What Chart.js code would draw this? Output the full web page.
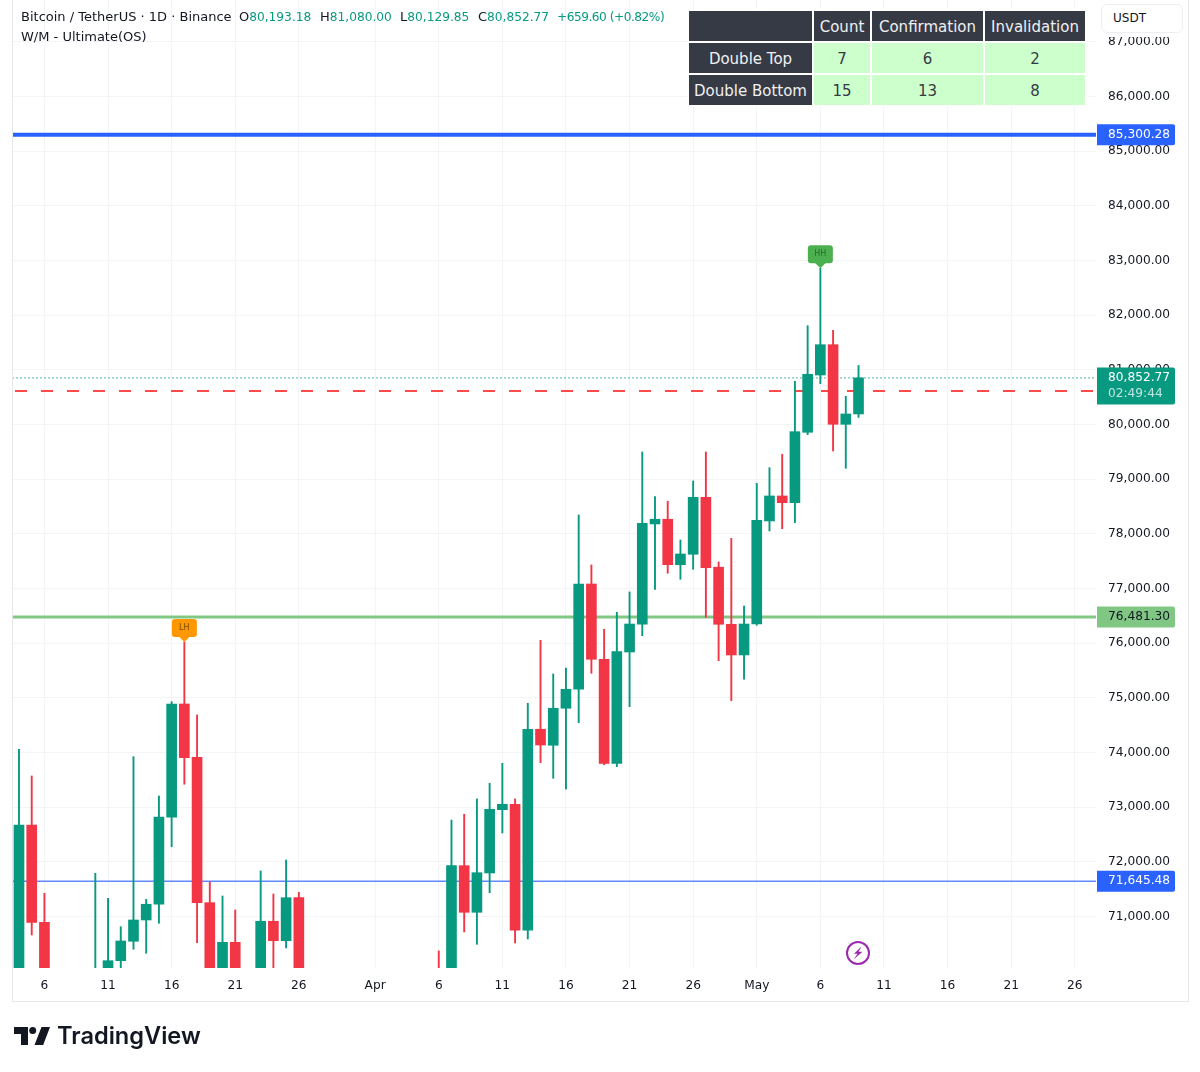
<!DOCTYPE html>
<html>
<head>
<meta charset="utf-8">
<title>BTCUSDT 1D</title>
<script src="https://cdn.jsdelivr.net/npm/chart.js@4"></script>
<style>
  html, body { margin: 0; padding: 0; background: #fff; }
  body { position: relative; width: 1200px; height: 1072px; overflow: hidden;
         font: 13px "DejaVu Sans", sans-serif; color: #131722; }
  canvas { position: absolute; left: 0; top: 0; }
  .frame { position: absolute; left: 12px; top: 0; width: 1175px; height: 1001px;
           border: 1px solid #e6e8ee; border-top: 0; pointer-events: none; }
  .head { position: absolute; white-space: nowrap; line-height: 16px; }
  .head b { font-weight: normal; font-size: 12.2px; color: #089981; }
  #ohlcChange { letter-spacing: -0.5px; }
  #stats { position: absolute; left: 687px; top: 9px; background: #fff;
           border-collapse: separate; border-spacing: 2px; table-layout: fixed;
           font-size: 15px; text-align: center; }
  #stats td { height: 28px; padding: 2px 0 0; }
  #stats .dark { background: #363a45; color: #f0f0f2; }
  #stats .light { background: #ccffcc; color: #363a45; }
  .unitCover { position: absolute; left: 1097px; top: 0; width: 90px; height: 37px; background: #fff; }
  .unit { position: absolute; left: 1101px; top: 4px; width: 69px; height: 27px; padding-left: 11px;
          font-size: 12px; line-height: 27px; border: 1px solid #eceef2; border-radius: 6px; background: #fff; }
  .logoText { position: absolute; left: 57px; top: 1019px; font: 600 23.6px/34px Inter, sans-serif;
              color: #131722; }
</style>
</head>
<body>
<canvas id="spaceForGraphic" width="1200" height="1072"></canvas>
<div class="frame"></div>

<div class="head" style="left:21px;top:9px">Bitcoin / TetherUS · 1D · Binance</div>
<div class="head" id="ohlcO" style="left:239px;top:9px"></div>
<div class="head" id="ohlcH" style="left:320px;top:9px"></div>
<div class="head" id="ohlcL" style="left:400px;top:9px"></div>
<div class="head" id="ohlcC" style="left:478px;top:9px"></div>
<div class="head" id="ohlcChange" style="left:557px;top:9px"></div>
<div class="head" style="left:21px;top:29px">W/M - Ultimate(OS)</div>

<table id="stats"></table>
<div class="unitCover"></div>
<div class="unit">USDT</div>

<svg style="position:absolute;left:845px;top:940px" width="26" height="26" viewBox="0 0 26 26">
  <circle cx="13" cy="13" r="11" fill="#fff" stroke="#9c27b0" stroke-width="2"/>
  <path d="M16.5 6.5 L9 13.8 L12.6 13.8 L8.5 19.5 L17.5 11.8 L13.6 11.8 Z" fill="#9c27b0"/>
</svg>

<svg style="position:absolute;left:14px;top:1027px" width="36" height="18" viewBox="0 0 36 18">
  <path d="M14 0H0v7h7v11h7V0z" fill="#131722"/>
  <circle cx="18.7" cy="3.5" r="3.5" fill="#131722"/>
  <path d="M36 0h-8.5l-7 18h8.7l6.800-18z" fill="#131722"/>
</svg>
<div class="logoText">TradingView</div>

<script>
// daily candles, index 0 is Mar 4, last one is May 9
const opens = [69900, 72675, 70895, 68000, 67300, 66200, 68400, 69700, 70193, 70548,
  70937, 71225, 72816, 74888, 73913, 71254, 69800, 70529, 69700, 69850,
  70914, 70559, 71345, 69000, 68400, 67000, 66600, 67800, 68300, 68900,
  68100, 67400, 69200, 69500, 68500, 71931, 71078, 71797, 72955, 73054,
  70749, 74426, 74133, 74810, 75157, 77083, 75706, 73803, 75839, 76346,
  78181, 78267, 77436, 77627, 78669, 77390, 76346, 75785, 76351, 78236,
  78693, 78570, 79858, 80906, 81460, 80004, 80193.18];
const highs = [74060, 73571, 71426, 68800, 67800, 68600, 71792, 71334, 70815, 73924,
  71316, 73205, 74930, 76022, 74687, 71633, 71376, 71120, 70020, 71834,
  71413, 72035, 71444, 69400, 68800, 67500, 68100, 68500, 69200, 69300,
  68700, 69400, 69800, 70371, 72766, 72871, 73151, 73438, 73803, 73151,
  74901, 76053, 75437, 75547, 78345, 77431, 76255, 76566, 76937, 79498,
  78680, 78596, 77888, 78967, 79498, 77486, 77919, 76681, 78925, 79210,
  79456, 80791, 81808, 82858, 81724, 80516, 81080];
const lows = [69800, 70663, 67500, 67000, 65900, 65800, 68000, 69200, 69950, 70402,
  70328, 70877, 72278, 73420, 70522, 69500, 69500, 69300, 69400, 69600,
  69900, 70426, 68700, 68200, 66700, 66200, 66200, 67500, 67900, 67900,
  67100, 67100, 68900, 68000, 68000, 70718, 70493, 71437, 72529, 70517,
  70590, 73815, 73529, 73328, 74546, 75450, 73778, 73742, 74839, 76138,
  76986, 77279, 77169, 77352, 76474, 75680, 74948, 75340, 76328, 78052,
  78095, 78205, 79814, 80747, 79516, 79199, 80129.85];
const closes = [72675, 70895, 68000, 67300, 66200, 68400, 69700, 70193, 70553, 70937,
  71225, 72821, 74888, 73906, 71254, 69800, 70529, 69700, 69800, 70914,
  70559, 71345, 69000, 68400, 67000, 66600, 67800, 68300, 68900, 68100,
  67400, 69200, 69500, 68400, 71931, 71078, 71802, 72962, 73054, 70749,
  74426, 74138, 74810, 75157, 77083, 75706, 73803, 75845, 76351, 78193,
  78267, 77436, 77632, 78669, 77381, 76346, 75785, 76351, 78248, 78693,
  78570, 79869, 80919, 81460, 80004, 80193.18, 80852.77];

const priceTicks = [71000, 72000, 73000, 74000, 75000, 76000, 77000, 78000, 79000,
  80000, 81000, 82000, 83000, 84000, 85000, 86000, 87000];
const tickDays = [2, 7, 12, 17, 22, 28, 33, 38, 43, 48, 53, 58, 63, 68, 73, 78, 83];
const tickLabels = ["6", "11", "16", "21", "26", "Apr", "6", "11", "16", "21", "26", "May", "6", "11", "16", "21", "26"];

const upperLevel = 85300.28;
const greenLevel = 76481.30;
const lowerLevel = 71645.48;
const redLevel = 80613;
const lastPrice = 80852.77;
const countdown = "02:49:44";
const priceChange = "+659.60 (+0.82%)";

const swingLabels = ["LH", "HH"];
const swingDays = [13, 63];
const swingColors = ["#ff9800", "#4caf50"];
const swingTextColors = ["#7a4d05", "#2c6b30"];

const tableColumns = ["", "Count", "Confirmation", "Invalidation"];
const tableRows = ["Double Top", "Double Bottom"];
const tableCounts = [7, 15];
const tableConfirmations = [6, 13];
const tableInvalidations = [2, 8];
const tableWidths = [123, 56, 111, 100];

const UP = "#089981";
const DOWN = "#f23645";
const X_MIN = -0.55;
const X_MAX = 84.67;
const AXIS_FONT = "12.2px 'DejaVu Sans'";

function money(v) {
  return v.toLocaleString("en-US", { minimumFractionDigits: 2, maximumFractionDigits: 2 });
}

// header line above the chart
function fillHead(id, letter, value) {
  document.getElementById(id).innerHTML = letter + "<b>" + money(value) + "</b>";
}
const last = opens.length - 1;
fillHead("ohlcO", "O", opens[last]);
fillHead("ohlcH", "H", highs[last]);
fillHead("ohlcL", "L", lows[last]);
fillHead("ohlcC", "C", closes[last]);
document.getElementById("ohlcChange").innerHTML = "<b>" + priceChange + "</b>";

// stats table in the top right corner
const stats = document.getElementById("stats");
let rowsHtml = "<colgroup>" + tableWidths.map(w => '<col style="width:' + w + 'px">').join("") + "</colgroup>";
rowsHtml += "<tr>" + tableColumns.map(c => '<td class="dark">' + c + "</td>").join("") + "</tr>";
tableRows.forEach((name, r) => {
  rowsHtml += '<tr><td class="dark">' + name + "</td>" +
    [tableCounts[r], tableConfirmations[r], tableInvalidations[r]].map(v => '<td class="light">' + v + "</td>").join("") +
    "</tr>";
});
stats.innerHTML = rowsHtml;

const isUp = opens.map((o, i) => closes[i] >= o);
const candleColors = isUp.map(u => (u ? UP : DOWN));

function levelLine(value, color, width, dash, dashOffset) {
  return {
    type: "line",
    data: [{ x: X_MIN, y: value }, { x: X_MAX, y: value }],
    borderColor: color,
    borderWidth: width,
    borderDash: dash || [],
    borderDashOffset: dashOffset || 0,
    pointRadius: 0,
    order: 3,
  };
}

// value tags over the price axis and the LH / HH flags
const overlays = {
  id: "overlays",
  afterDraw(chart) {
    const ctx = chart.ctx;
    const y = chart.scales.y;
    const x = chart.scales.x;

    function tag(value, bg, fg) {
      const py = y.getPixelForValue(value);
      ctx.fillStyle = bg;
      ctx.beginPath();
      ctx.roundRect(1097, py - 10.5, 78, 21, [0, 2, 2, 0]);
      ctx.fill();
      ctx.fillStyle = fg;
      ctx.textAlign = "left";
      ctx.textBaseline = "middle";
      ctx.font = AXIS_FONT;
      ctx.fillText(money(value), 1108, py);
    }
    tag(upperLevel, "#2962ff", "#fff");
    tag(greenLevel, "#81c784", "#131722");
    tag(lowerLevel, "#2962ff", "#fff");

    const lastY = y.getPixelForValue(lastPrice);
    ctx.fillStyle = UP;
    ctx.beginPath();
    ctx.roundRect(1097, lastY - 10.5, 78, 37, [0, 2, 2, 0]);
    ctx.fill();
    ctx.fillStyle = "#fff";
    ctx.fillText(money(lastPrice), 1108, lastY);
    ctx.fillStyle = "rgba(255,255,255,0.75)";
    ctx.fillText(countdown, 1108, lastY + 16);

    swingLabels.forEach((text, i) => {
      const day = swingDays[i];
      const px = x.getPixelForValue(day);
      const tip = y.getPixelForValue(highs[day]);
      ctx.fillStyle = swingColors[i];
      ctx.beginPath();
      ctx.roundRect(px - 12.5, tip - 23, 25, 18, 3);
      ctx.fill();
      ctx.beginPath();
      ctx.moveTo(px - 6, tip - 6);
      ctx.lineTo(px + 6, tip - 6);
      ctx.lineTo(px, tip);
      ctx.closePath();
      ctx.fill();
      ctx.fillStyle = swingTextColors[i];
      ctx.font = "8px 'DejaVu Sans'";
      ctx.textAlign = "center";
      ctx.fillText(text, px, tip - 14);
    });
  },
};

Chart.defaults.font.family = "'DejaVu Sans', sans-serif";
Chart.defaults.font.size = 12.2;
Chart.defaults.color = "#131722";

new Chart(document.getElementById("spaceForGraphic"), {
  type: "bar",
  data: {
    datasets: [
      {
        // candle bodies
        data: opens.map((o, i) => ({ x: i, y: [o, closes[i]] })),
        backgroundColor: candleColors,
        barThickness: 10,
        grouped: false,
        order: 1,
      },
      {
        // high-low wicks
        data: lows.map((l, i) => ({ x: i, y: [l, highs[i]] })),
        backgroundColor: candleColors,
        barThickness: 1.25,
        grouped: false,
        order: 2,
      },
      levelLine(upperLevel, "#2962ff", 4),
      levelLine(greenLevel, "#81c784", 3),
      levelLine(lowerLevel, "rgba(41,98,255,0.75)", 1.5),
      levelLine(redLevel, "#ff4a4a", 2, [12, 14], 23),
      levelLine(lastPrice, "rgba(8,153,129,0.7)", 1, [2, 2]),
    ],
  },
  options: {
    responsive: false,
    animation: false,
    devicePixelRatio: 1,
    layout: { autoPadding: false, padding: { left: 12, right: 12, top: 0, bottom: 0 } },
    plugins: { legend: { display: false }, tooltip: { enabled: false } },
    scales: {
      x: {
        type: "linear",
        offset: false,
        min: X_MIN,
        max: X_MAX,
        afterBuildTicks: scale => {
          scale.ticks = tickDays.map(v => ({ value: v }));
        },
        afterFit: scale => {
          scale.height = 104;
          scale.paddingLeft = scale.paddingRight = 0;
        },
        grid: { color: "#f3f4f6", drawTicks: false, offset: false },
        border: { display: false },
        ticks: {
          padding: 11,
          autoSkip: false,
          maxRotation: 0,
          callback: (value, index) => tickLabels[index],
        },
      },
      y: {
        position: "right",
        min: 70059,
        max: 87765,
        afterBuildTicks: scale => {
          scale.ticks = priceTicks.map(v => ({ value: v }));
        },
        afterFit: scale => {
          scale.width = 92;
          scale.paddingTop = scale.paddingBottom = 0;
        },
        grid: { color: "#f3f4f6", drawTicks: false },
        border: { display: false },
        ticks: {
          padding: 12,
          callback: value => money(value),
        },
      },
    },
  },
  plugins: [overlays],
});
</script>
</body>
</html>
